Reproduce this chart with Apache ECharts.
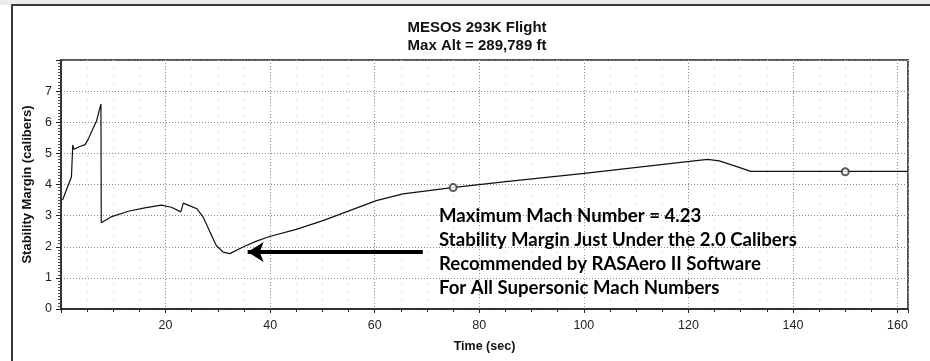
<!DOCTYPE html>
<html>
<head>
<meta charset="utf-8">
<script src="https://cdn.jsdelivr.net/npm/echarts@6/dist/echarts.min.js"></script>
<style>
  html, body { margin: 0; padding: 0; background: #fff; }
  #main { width: 930px; height: 361px; }
</style>
</head>
<body>
<div id="main"></div>
<script>
// flight data
var timeSec = [0.3, 2.0, 2.2, 2.25, 2.5, 3.6, 4.6, 5.2, 5.9, 6.8, 7.64, 7.7,
    9.7, 12.9, 16.0, 19.2, 21.1, 22.9, 23.4, 25.0, 26.0, 27.2, 28.5, 29.7,
    31.0, 32.3, 34.8, 37.4, 39.9, 45.0, 50.1, 55.2, 60.3, 65.4, 69.2, 74.8,
    85.1, 100.1, 120.2, 123.7, 125.9, 129.7, 131.9, 162];
var stabMargin = [3.50, 4.25, 4.30, 5.27, 5.13, 5.22, 5.28, 5.45, 5.72, 6.04, 6.59, 2.77,
    2.97, 3.14, 3.25, 3.34, 3.27, 3.12, 3.40, 3.29, 3.22, 2.95, 2.47, 2.04,
    1.83, 1.78, 1.99, 2.18, 2.33, 2.56, 2.84, 3.16, 3.48, 3.70, 3.78, 3.90,
    4.09, 4.36, 4.74, 4.81, 4.76, 4.55, 4.42, 4.42];
var markerTime = [75, 150];
var markerMargin = [3.90, 4.41];
var arrowFrom = [69.2, 1.83];
var arrowTo = [35.7, 1.83];
var noteLines = [
    'Maximum Mach Number = 4.23',
    'Stability Margin Just Under the 2.0 Calibers',
    'Recommended by RASAero II Software',
    'For All Supersonic Mach Numbers'
];

var lineData = [];
for (var i = 0; i < timeSec.length; i++) {
    lineData.push([timeSec[i], stabMargin[i]]);
}
var markerData = [];
for (var j = 0; j < markerTime.length; j++) {
    markerData.push([markerTime[j], markerMargin[j]]);
}

var myChart = echarts.init(document.getElementById('main'));
var option = {
    backgroundColor: '#fff',
    animation: false,
    title: {
        text: 'MESOS 293K Flight\nMax Alt = 289,789 ft',
        left: 472,
        top: 14,
        textAlign: 'center',
        textStyle: {
            fontFamily: 'Liberation Sans',
            fontWeight: 'bold',
            fontSize: 15,
            lineHeight: 18,
            color: '#111'
        }
    },
    graphic: [
        { type: 'rect', z: -10, shape: { x: 0, y: 0, width: 930, height: 5 }, style: { fill: '#ececec' } },
        { type: 'rect', z: -10, shape: { x: 12, y: 5, width: 1000, height: 400 }, style: { fill: 'none', stroke: '#3a3a3a', lineWidth: 2 } },
        {
            type: 'text',
            left: 439,
            top: 204,
            z: 100,
            style: {
                text: noteLines.join('\n'),
                fontFamily: 'Lato',
                fontWeight: 'bold',
                fontSize: 18.6,
                lineHeight: 24,
                fill: '#000'
            }
        }
    ],
    grid: {
        left: 61,
        right: 22,
        top: 60,
        bottom: 52,
        show: true,
        borderColor: '#555',
        borderWidth: 2
    },
    xAxis: [
        {
            type: 'value',
            min: 0,
            max: 162,
            interval: 20,
            name: 'Time (sec)',
            nameLocation: 'middle',
            nameGap: 31,
            nameTextStyle: { fontFamily: 'Liberation Sans', fontWeight: 'bold', fontSize: 12.5, color: '#111' },
            axisLine: { lineStyle: { color: '#222', width: 1.5 } },
            axisTick: { length: 4, lineStyle: { color: '#222' } },
            axisLabel: {
                margin: 10,
                fontFamily: 'Liberation Sans',
                fontSize: 12.5,
                color: '#222',
                formatter: function (v) {
                    return (v > 0 && v <= 160 && v % 20 === 0) ? String(v) : '';
                }
            },
            splitLine: { show: true, lineStyle: { color: '#8a8a8a', type: [1, 2], width: 1 } }
        },
        {
            type: 'value',
            min: 0,
            max: 162,
            interval: 5,
            position: 'bottom',
            axisLine: { show: false },
            axisTick: { show: true, length: 3, lineStyle: { color: '#222' } },
            axisLabel: { show: false },
            splitLine: { show: true, lineStyle: { color: '#c4c4c4', type: [1, 7], width: 1 } }
        }
    ],
    yAxis: {
        type: 'value',
        min: 0,
        max: 8,
        interval: 1,
        name: 'Stability Margin (calibers)',
        nameLocation: 'middle',
        nameGap: 27,
        nameTextStyle: { fontFamily: 'Liberation Sans', fontWeight: 'bold', fontSize: 13, color: '#111' },
        axisLine: { show: true, lineStyle: { color: '#222', width: 1.5 } },
        axisTick: { show: true, length: 5, lineStyle: { color: '#222' } },
        minorTick: { show: true, splitNumber: 10, length: 3, lineStyle: { color: '#444' } },
        axisLabel: {
            margin: 9,
            fontFamily: 'Liberation Sans',
            fontSize: 12.5,
            color: '#222',
            formatter: function (v) { return v < 8 ? String(v) : ''; }
        },
        splitLine: { show: true, lineStyle: { color: '#8a8a8a', type: [1, 2], width: 1 } }
    },
    series: [
        {
            name: 'Stability Margin',
            type: 'line',
            data: lineData,
            showSymbol: false,
            symbol: 'none',
            lineStyle: { color: '#111', width: 1.2 },
            markLine: {
                silent: true,
                symbol: ['none', 'arrow'],
                symbolSize: [15, 16],
                label: { show: false },
                lineStyle: { color: '#000', width: 4, type: 'solid' },
                data: [[{ coord: arrowFrom }, { coord: arrowTo }]]
            },
            z: 5
        },
        {
            name: 'Markers',
            type: 'scatter',
            data: markerData,
            symbol: 'emptyCircle',
            symbolSize: 7,
            itemStyle: { color: '#333', borderWidth: 1 },
            z: 6
        }
    ]
};
myChart.setOption(option);
</script>
</body>
</html>
